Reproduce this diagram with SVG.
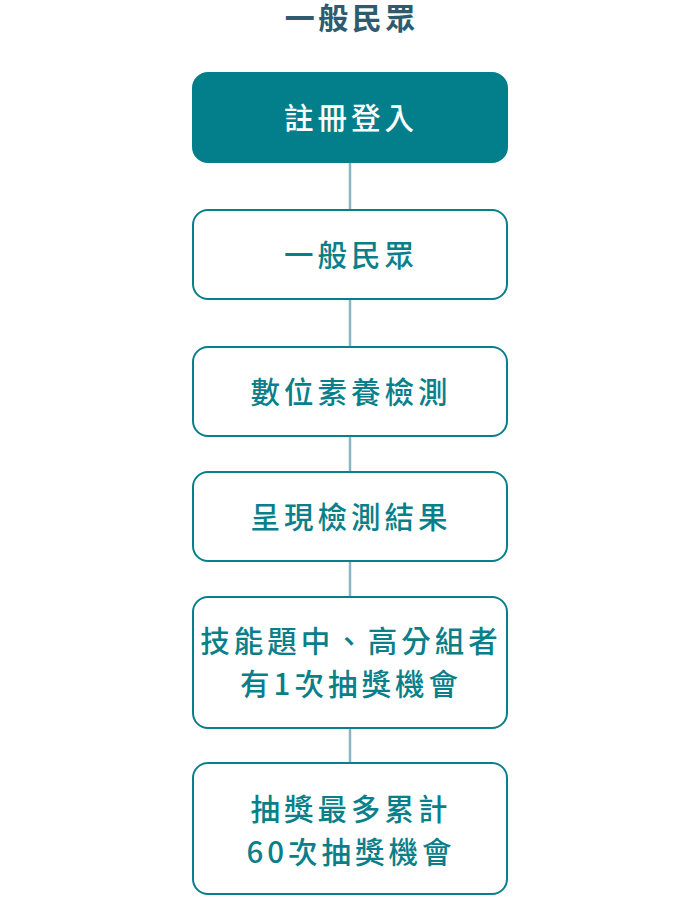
<svg xmlns="http://www.w3.org/2000/svg" width="700" height="898" viewBox="0 0 700 898">
<style>
.box{fill:#ffffff;stroke:#0a7f8a;stroke-width:2}
.boxf{fill:#037f8b;stroke:#037f8b;stroke-width:2}
.t{font-family:"Noto Sans CJK TC","Noto Sans CJK SC",sans-serif;font-size:29.5px;font-weight:500;letter-spacing:4px;text-anchor:middle;dominant-baseline:central;fill:#0a7f8a}
.tw{fill:#ffffff}
.title{font-family:"Noto Sans CJK TC","Noto Sans CJK SC",sans-serif;font-size:30px;font-weight:700;letter-spacing:3.5px;text-anchor:middle;dominant-baseline:central;fill:#2f5b6e}
.c{stroke:#8ab6c2;stroke-width:2.5;fill:none}
</style>
<rect width="700" height="898" fill="#ffffff"/>
<text class="title" x="351.75" y="16">一般民眾</text>
<g id="connectors">
<line class="c" x1="350" y1="162" x2="350" y2="210"/>
<line class="c" x1="350" y1="299" x2="350" y2="347"/>
<line class="c" x1="350" y1="436" x2="350" y2="472"/>
<line class="c" x1="350" y1="561" x2="350" y2="597"/>
<line class="c" x1="350" y1="728" x2="350" y2="763"/>
</g>
<g id="n1">
<rect class="boxf" x="193" y="73" width="314" height="89" rx="15"/>
<text class="t tw" x="351" y="115.5">註冊登入</text>
</g>
<g id="n2">
<rect class="box" x="193" y="210" width="314" height="89" rx="15"/>
<text class="t" x="351" y="252.5">一般民眾</text>
</g>
<g id="n3">
<rect class="box" x="193" y="347" width="314" height="89" rx="15"/>
<text class="t" x="351" y="389.5">數位素養檢測</text>
</g>
<g id="n4">
<rect class="box" x="193" y="472" width="314" height="89" rx="15"/>
<text class="t" x="351" y="514.5">呈現檢測結果</text>
</g>
<g id="n5">
<rect class="box" x="193" y="597" width="314" height="131" rx="15"/>
<text class="t" x="351" y="638.5">技能題中、高分組者</text>
<text class="t" x="351" y="681.5">有1次抽獎機會</text>
</g>
<g id="n6">
<rect class="box" x="193" y="763" width="314" height="131" rx="15"/>
<text class="t" x="351" y="806.5">抽獎最多累計</text>
<text class="t" x="351" y="849.5">60次抽獎機會</text>
</g>
</svg>
